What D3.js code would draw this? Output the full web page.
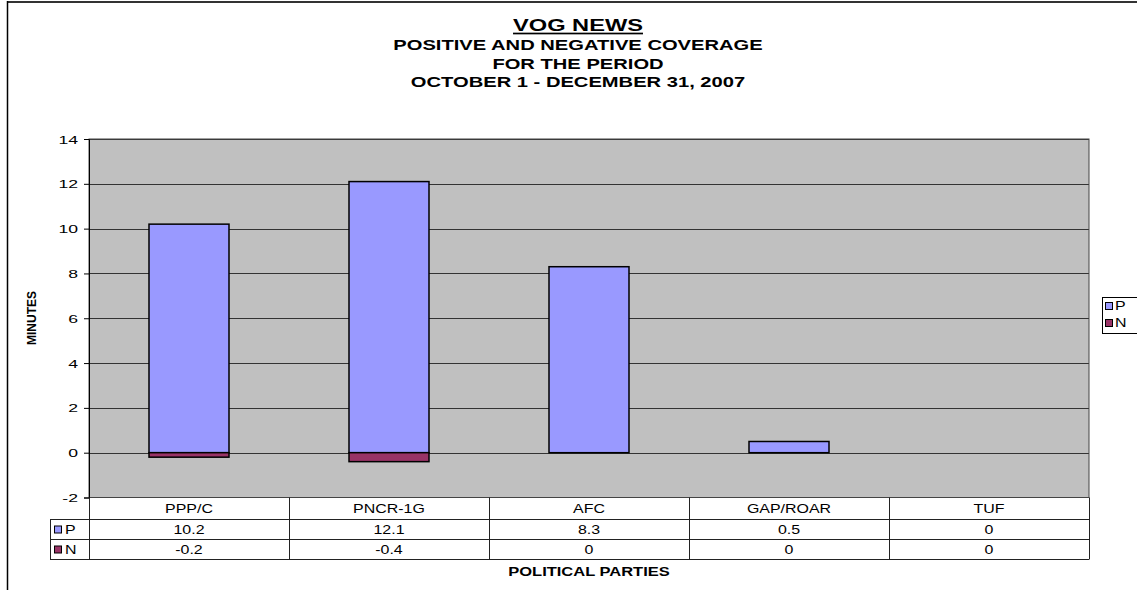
<!DOCTYPE html>
<html><head><meta charset="utf-8">
<script src="https://cdn.jsdelivr.net/npm/d3@7"></script>
<style>html,body{margin:0;padding:0;background:#fff;}svg{display:block;font-family:"Liberation Sans",Arial,sans-serif;}</style>
</head><body>
<script>
const categories = ["PPP/C","PNCR-1G","AFC","GAP/ROAR","TUF"];
const seriesNames = ["P","N"];
const positive = [10.2, 12.1, 8.3, 0.5, 0];
const negative = [-0.2, -0.4, 0, 0, 0];
const yTicks = [-2,0,2,4,6,8,10,12,14];
const titleLines = ["VOG NEWS","POSITIVE AND NEGATIVE COVERAGE","FOR THE PERIOD","OCTOBER 1 - DECEMBER 31, 2007"];
const colors = {P:"#9999FF", N:"#993366"};

const W=1137,H=590;
const svg=d3.select("body").append("svg").attr("width",W).attr("height",H);

function stext(g,x,y,str,fs,sx,opts={}){
  const t=g.append("text").attr("transform",`translate(${x},${y}) scale(${sx},1)`)
    .attr("font-size",fs).attr("fill","#000").attr("text-anchor",opts.anchor||"middle")
    .attr("font-weight",opts.bold?"bold":"normal").text(str);
  if(opts.underline) t.attr("text-decoration","underline");
  return t;
}

// outer frame
svg.append("line").attr("x1",7).attr("x2",W).attr("y1",2).attr("y2",2).attr("stroke","#333").attr("stroke-width",2);
svg.append("line").attr("x1",7.5).attr("x2",7.5).attr("y1",1).attr("y2",H).attr("stroke","#000").attr("stroke-width",1.5);

// titles
stext(svg,578,31,titleLines[0],17,1.39,{bold:true,underline:true});
stext(svg,578,50,titleLines[1],14.5,1.39,{bold:true});
stext(svg,578,68.5,titleLines[2],14.5,1.39,{bold:true});
stext(svg,578,87,titleLines[3],14.5,1.39,{bold:true});

const x0=89,x1=1089,yTop=139,yBot=497.5;
const x=d3.scaleBand().domain(categories).range([x0,x1]).paddingInner(0.6).paddingOuter(0.3);
const xc=d3.scaleBand().domain(categories).range([x0,x1]);
const y=d3.scaleLinear().domain([-2,14]).range([yBot,yTop]);

// plot background
svg.append("rect").attr("x",x0).attr("y",yTop).attr("width",x1-x0).attr("height",yBot-yTop).attr("fill","#C0C0C0");
// gridlines
svg.append("g").selectAll("line").data(yTicks.filter(d=>d>-2)).join("line")
  .attr("x1",x0).attr("x2",x1).attr("y1",d=>Math.round(y(d))+0.5).attr("y2",d=>Math.round(y(d))+0.5)
  .attr("stroke","#333").attr("stroke-width",1);
svg.append("rect").attr("x",x0).attr("y",yTop).attr("width",x1-x0).attr("height",yBot-yTop).attr("fill","none").attr("stroke","#444").attr("stroke-width",1);

// y axis
const yAxis=d3.axisLeft(y).tickValues(yTicks).tickSize(5).tickFormat(d3.format("d"));
const ga=svg.append("g").attr("transform",`translate(${x0},0)`).call(yAxis);
ga.select(".domain").attr("stroke","#000");
ga.selectAll(".tick line").attr("stroke","#000");
ga.selectAll(".tick text").remove();
ga.selectAll(".tick").each(function(d){
  stext(d3.select(this),-11,4,String(d),11,1.6,{anchor:"end"});
});

// bars
const bars=svg.append("g");
bars.selectAll("rect.p").data(categories.map((c,i)=>({c,v:positive[i]})).filter(d=>d.v!==0)).join("rect")
  .attr("x",d=>x(d.c)).attr("width",x.bandwidth()).attr("y",d=>y(d.v)).attr("height",d=>y(0)-y(d.v))
  .attr("fill",colors.P).attr("stroke","#000").attr("stroke-width",1.5);
bars.selectAll("rect.n").data(categories.map((c,i)=>({c,v:negative[i]})).filter(d=>d.v!==0)).join("rect")
  .attr("x",d=>x(d.c)).attr("width",x.bandwidth()).attr("y",y(0)).attr("height",d=>y(d.v)-y(0))
  .attr("fill",colors.N).attr("stroke","#000").attr("stroke-width",1.5);

// y title
svg.append("text").attr("transform",`translate(36,318) rotate(-90)`).attr("text-anchor","middle")
  .attr("font-size",12).attr("font-weight","bold").text("MINUTES");

// data table
const rowH=[yBot,519.5,539.5,559.5];
const tbl=svg.append("g");
const lc="#222";
tbl.append("line").attr("x1",x0).attr("x2",x1).attr("y1",rowH[1]).attr("y2",rowH[1]).attr("stroke",lc);
tbl.append("line").attr("x1",50).attr("x2",x0).attr("y1",rowH[1]).attr("y2",rowH[1]).attr("stroke",lc);
tbl.append("line").attr("x1",50).attr("x2",x1).attr("y1",rowH[2]).attr("y2",rowH[2]).attr("stroke",lc);
tbl.append("line").attr("x1",50).attr("x2",x1).attr("y1",rowH[3]).attr("y2",rowH[3]).attr("stroke",lc);
tbl.append("line").attr("x1",50.5).attr("x2",50.5).attr("y1",rowH[1]).attr("y2",rowH[3]).attr("stroke",lc);
tbl.append("line").attr("x1",x0+0.5).attr("x2",x0+0.5).attr("y1",yBot).attr("y2",rowH[3]).attr("stroke",lc);
categories.forEach(c=>{
  const xe=Math.round(xc(c)+xc.bandwidth())+0.5;
  tbl.append("line").attr("x1",xe).attr("x2",xe).attr("y1",yBot).attr("y2",rowH[3]).attr("stroke",lc);
});
categories.forEach((c,i)=>{
  const cx=xc(c)+xc.bandwidth()/2;
  stext(tbl,cx,513,c,12,1.33);
  stext(tbl,cx,533.5,String(positive[i]),12,1.33);
  stext(tbl,cx,553.5,String(negative[i]),12,1.33);
});
seriesNames.forEach((s,i)=>{
  const yy=rowH[i+1];
  tbl.append("rect").attr("x",54.5).attr("y",yy+6.5).attr("width",7).attr("height",7).attr("fill",colors[s]).attr("stroke","#000");
  stext(tbl,65,yy+14,s,12,1.33,{anchor:"start"});
});

// x title
stext(svg,589,576,"POLITICAL PARTIES",12.5,1.32,{bold:true});

// legend
const lg=svg.append("g");
lg.append("rect").attr("x",1102.5).attr("y",297.5).attr("width",50).attr("height",36).attr("fill","#fff").attr("stroke","#000");
seriesNames.forEach((s,i)=>{
  const yy=302+i*17;
  lg.append("rect").attr("x",1105.5).attr("y",yy+0.5).attr("width",7).attr("height",7).attr("fill",colors[s]).attr("stroke","#000");
  stext(lg,1115,yy+8,s,12,1.33,{anchor:"start"});
});
</script>
</body></html>
